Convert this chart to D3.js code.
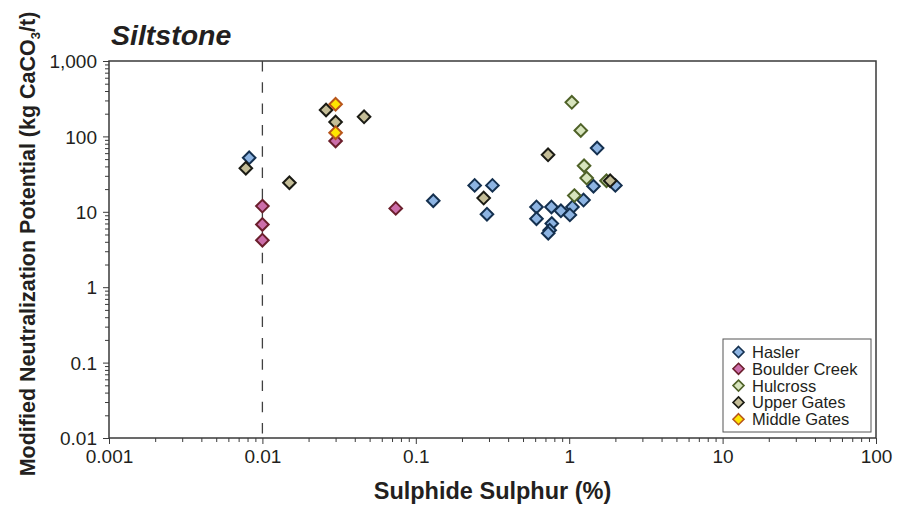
<!DOCTYPE html>
<html>
<head>
<meta charset="utf-8">
<script src="https://cdn.jsdelivr.net/npm/d3@7"></script>
<style>
  body { margin: 0; background: #fff; }
  svg { font-family: Arial, "Liberation Sans", sans-serif; }
</style>
</head>
<body>
<div id="chart"></div>
<script>
'use strict';

// datos: [azufre %, NP kg CaCO3/t]
const hasler = [
  [0.0082, 52], [0.13, 14], [0.242, 22.4], [0.316, 22.4], [0.291, 9.3],
  [1.52, 70], [2.0, 22.4], [1.44, 21.8], [1.24, 14.3], [0.612, 11.6],
  [0.766, 11.6], [0.883, 10.3], [1.05, 11.6], [1.01, 9.1], [0.612, 8.1],
  [0.77, 7.0], [0.746, 5.7], [0.73, 5.2]
];
const boulderCreek = [[0.01, 11.9], [0.01, 6.8], [0.01, 4.2], [0.03, 87], [0.074, 11.1]];
const hulcross = [[1.04, 283], [1.19, 120], [1.25, 40.8], [1.30, 28], [1.75, 25.8], [1.08, 16.4]];
const upperGates = [
  [0.0078, 37.8], [0.015, 24.3], [0.026, 224], [0.030, 155], [0.046, 182],
  [0.277, 15.2], [0.728, 57], [1.85, 25.8]
];
const middleGates = [[0.030, 267], [0.030, 112]];

const seriesNames = ['Hasler', 'Boulder Creek', 'Hulcross', 'Upper Gates', 'Middle Gates'];
const seriesData = [hasler, boulderCreek, hulcross, upperGates, middleGates];
const seriesFill = ['#8db4e2', '#cc6eaa', '#d7e4bd', '#c4bd97', '#ffe600'];
const seriesStroke = ['#14304f', '#6b1f2c', '#4f6228', '#1b1b14', '#b8561b'];

const xTicks = [0.001, 0.01, 0.1, 1, 10, 100];
const xTickLabels = ['0.001', '0.01', '0.1', '1', '10', '100'];
const yTicks = [0.01, 0.1, 1, 10, 100, 1000];
const yTickLabels = ['0.01', '0.1', '1', '10', '100', '1,000'];
const limitLine = 0.01;

function drawChart(elementID) {
  const width = 898;
  const height = 508;
  const left = 109, right = 876, top = 61, bottom = 438;
  const ink = '#231f20';
  const axisCol = '#3a3a3a';

  const scaleX = d3.scaleLog().domain([0.001, 100]).range([left, right]);
  const scaleY = d3.scaleLog().domain([0.01, 1000]).range([bottom, top]);

  const svg = d3.select('#' + elementID).append('svg')
    .attr('width', width)
    .attr('height', height);

  // ticks menores
  const minorX = [];
  const minorY = [];
  for (let e = -3; e < 2; e++) for (let k = 2; k < 10; k++) minorX.push(k * Math.pow(10, e));
  for (let e = -2; e < 3; e++) for (let k = 2; k < 10; k++) minorY.push(k * Math.pow(10, e));

  svg.append('g')
    .attr('transform', `translate(0, ${bottom})`)
    .call(d3.axisBottom(scaleX).tickValues(minorX).tickSize(4).tickFormat(''))
    .call(g => g.select('.domain').remove())
    .call(g => g.selectAll('line').attr('stroke', axisCol));

  svg.append('g')
    .attr('transform', `translate(${left}, 0)`)
    .call(d3.axisLeft(scaleY).tickValues(minorY).tickSize(4).tickFormat(''))
    .call(g => g.select('.domain').remove())
    .call(g => g.selectAll('line').attr('stroke', axisCol));

  // eje X
  const xAxis = d3.axisBottom(scaleX)
    .tickValues(xTicks)
    .tickSize(6)
    .tickPadding(6)
    .tickFormat((d, i) => xTickLabels[i]);
  svg.append('g')
    .attr('transform', `translate(0, ${bottom})`)
    .call(xAxis)
    .call(g => g.select('.domain').remove())
    .call(g => g.selectAll('line').attr('stroke', axisCol))
    .call(g => g.selectAll('text').attr('fill', ink).attr('font-size', 19));

  // eje Y
  const yAxis = d3.axisLeft(scaleY)
    .tickValues(yTicks)
    .tickSize(6)
    .tickPadding(6)
    .tickFormat((d, i) => yTickLabels[i]);
  svg.append('g')
    .attr('transform', `translate(${left}, 0)`)
    .call(yAxis)
    .call(g => g.select('.domain').remove())
    .call(g => g.selectAll('line').attr('stroke', axisCol))
    .call(g => g.selectAll('text').attr('fill', ink).attr('font-size', 19).attr('dy', '0.35em'));

  // marco
  svg.append('rect')
    .attr('x', left).attr('y', top)
    .attr('width', right - left).attr('height', bottom - top)
    .attr('fill', 'none')
    .attr('stroke', axisCol)
    .attr('stroke-width', 1.5);

  // linea de limite
  svg.append('line')
    .attr('x1', scaleX(limitLine)).attr('x2', scaleX(limitLine))
    .attr('y1', top).attr('y2', bottom)
    .attr('stroke', '#404040')
    .attr('stroke-width', 1.3)
    .attr('stroke-dasharray', '10.5,10.8');

  const diamond = 'M0,-6.3L6.3,0L0,6.3L-6.3,0Z';

  seriesData.forEach((data, i) => {
    svg.append('g').selectAll('path')
      .data(data)
      .enter()
      .append('path')
      .attr('d', diamond)
      .attr('transform', d => `translate(${scaleX(d[0])}, ${scaleY(d[1])})`)
      .attr('fill', seriesFill[i])
      .attr('stroke', seriesStroke[i])
      .attr('stroke-width', 2);
  });

  // leyenda
  const legend = svg.append('g');
  legend.append('rect')
    .attr('x', 723).attr('y', 339)
    .attr('width', 148).attr('height', 93)
    .attr('fill', '#fff')
    .attr('stroke', '#555')
    .attr('stroke-width', 1);

  seriesNames.forEach((name, i) => {
    const y = 352 + i * 16.8;
    legend.append('path')
      .attr('d', 'M0,-5.5L5.5,0L0,5.5L-5.5,0Z')
      .attr('transform', `translate(738.5, ${y})`)
      .attr('fill', seriesFill[i])
      .attr('stroke', seriesStroke[i])
      .attr('stroke-width', 1.6);
    legend.append('text')
      .attr('x', 752)
      .attr('y', y)
      .attr('dy', '0.36em')
      .attr('font-size', 16.5)
      .attr('fill', ink)
      .text(name);
  });

  // titulos
  svg.append('text')
    .attr('x', 111).attr('y', 45)
    .attr('font-size', 28.5)
    .attr('font-weight', 'bold')
    .attr('font-style', 'italic')
    .attr('fill', ink)
    .text('Siltstone');

  svg.append('text')
    .attr('x', (left + right) / 2).attr('y', 499)
    .attr('text-anchor', 'middle')
    .attr('font-size', 23.5)
    .attr('font-weight', 'bold')
    .attr('fill', ink)
    .text('Sulphide Sulphur (%)');

  const yTitle = svg.append('text')
    .attr('transform', `translate(35, 244) rotate(-90)`)
    .attr('text-anchor', 'middle')
    .attr('font-size', 21.5)
    .attr('font-weight', 'bold')
    .attr('fill', ink);
  yTitle.append('tspan').text('Modified Neutralization Potential (kg CaCO');
  yTitle.append('tspan').attr('font-size', 13).attr('dy', 5).text('3');
  yTitle.append('tspan').attr('dy', -5).text('/t)');
}

drawChart('chart');
</script>
</body>
</html>
